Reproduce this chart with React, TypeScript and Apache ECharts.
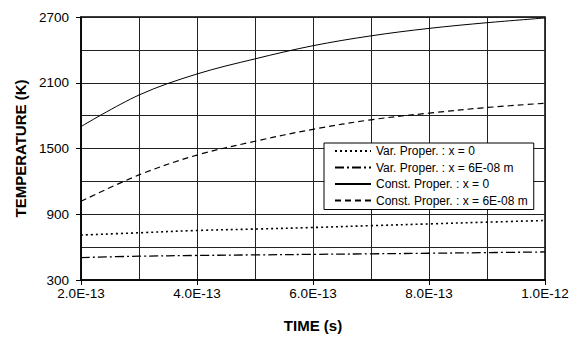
import React, { useEffect, useRef } from "react";
import * as echarts from "echarts";

const times = [2e-13, 3e-13, 4e-13, 5e-13, 6e-13, 7e-13, 8e-13, 9e-13, 1e-12];
const varProperX0 = [710, 731, 752, 765, 779, 796, 812, 828, 843];
const varProperX6 = [505, 517, 524, 529, 534, 539, 544, 550, 556];
const constProperX0 = [1700, 1988, 2180, 2318, 2438, 2528, 2596, 2648, 2691];
const constProperX6 = [1018, 1259, 1440, 1566, 1675, 1762, 1823, 1874, 1913];

const seriesNames = [
  "Var. Proper. : x = 0",
  "Var. Proper. : x = 6E-08 m",
  "Const. Proper. : x = 0",
  "Const. Proper. : x = 6E-08 m",
];
const xTickLabels = [2e-13, 4e-13, 6e-13, 8e-13, 1e-12];
const yTickLabels = [300, 900, 1500, 2100, 2700];

const FONT = "'Liberation Sans', Arial, Helvetica, sans-serif";

export default function App() {
  const ref = useRef<HTMLDivElement>(null);
  useEffect(() => {
    if (!ref.current) return;
    const chart = echarts.init(ref.current, undefined, { renderer: "svg" });
    const pair = (vals: number[]) => times.map((t, i) => [t, vals[i]]);
    const styles: any[] = [
      { type: [2, 3], width: 1.6 },
      { type: [9, 3, 2, 3], width: 1.3 },
      { type: "solid", width: 1 },
      { type: [6, 4], width: 1.2 },
    ];
    const datasets = [varProperX0, varProperX6, constProperX0, constProperX6];
    const nameStyle = { fontSize: 15, fontWeight: "bold", color: "#000", fontFamily: FONT };
    chart.setOption({
      animation: false,
      textStyle: { fontFamily: FONT },
      grid: {
        left: 81,
        right: 36,
        top: 17,
        bottom: 56,
        show: true,
        borderColor: "#000",
        borderWidth: 1.5,
      },
      legend: {
        orient: "vertical",
        left: 324,
        top: 143,
        itemWidth: 36,
        itemHeight: 14,
        itemGap: 4.5,
        padding: [2, 6, 3, 10],
        borderColor: "#000",
        borderWidth: 1,
        backgroundColor: "#fff",
        itemStyle: { opacity: 0 },
        textStyle: { fontSize: 12, color: "#000", fontFamily: FONT },
        data: seriesNames,
      },
      xAxis: [
        {
          type: "value",
          min: 2e-13,
          max: 1e-12,
          interval: 1e-13,
          position: "bottom",
          axisLine: { show: true, lineStyle: { color: "#000", width: 1.5 } },
          axisTick: { show: false },
          axisLabel: { show: false },
          splitLine: { show: true, lineStyle: { color: "#222", width: 1 } },
        },
        {
          type: "value",
          min: 2e-13,
          max: 1e-12,
          interval: 1e-13,
          position: "bottom",
          offset: 0,
          name: "TIME (s)",
          nameLocation: "middle",
          nameGap: 38,
          nameTextStyle: nameStyle,
          axisLine: { show: false },
          axisTick: {
            show: true,
            length: 5,
            customValues: xTickLabels,
            lineStyle: { color: "#000" },
          },
          axisLabel: {
            margin: 6,
            fontSize: 13.5,
            color: "#000",
            customValues: xTickLabels,
            formatter: (v: number) => v.toExponential(1).toUpperCase(),
          },
          splitLine: { show: false },
        },
      ],
      yAxis: [
        {
          type: "value",
          min: 300,
          max: 2700,
          interval: 300,
          position: "left",
          axisLine: { show: true, lineStyle: { color: "#000", width: 1.5 } },
          axisTick: { show: false },
          axisLabel: { show: false },
          splitLine: { show: true, lineStyle: { color: "#222", width: 1 } },
        },
        {
          type: "value",
          min: 300,
          max: 2700,
          interval: 300,
          position: "left",
          offset: 0,
          name: "TEMPERATURE (K)",
          nameLocation: "middle",
          nameGap: 52,
          nameTextStyle: nameStyle,
          axisLine: { show: false },
          axisTick: {
            show: true,
            length: 5,
            customValues: yTickLabels,
            lineStyle: { color: "#000" },
          },
          axisLabel: {
            margin: 12,
            fontSize: 13.5,
            color: "#000",
            customValues: yTickLabels,
            formatter: (v: number) => String(v),
          },
          splitLine: { show: false },
        },
      ],
      series: seriesNames.map((name, i) => ({
        name,
        type: "line",
        xAxisIndex: 0,
        yAxisIndex: 0,
        data: pair(datasets[i]),
        smooth: 0.35,
        symbol: "none",
        showSymbol: false,
        lineStyle: { color: "#000", ...styles[i] },
        itemStyle: { color: "#000" },
        z: 3,
      })),
    });
    return () => chart.dispose();
  }, []);
  return (
    <div
      ref={ref}
      style={{ position: "fixed", left: 0, top: 0, width: 581, height: 338, background: "#fff" }}
    />
  );
}
